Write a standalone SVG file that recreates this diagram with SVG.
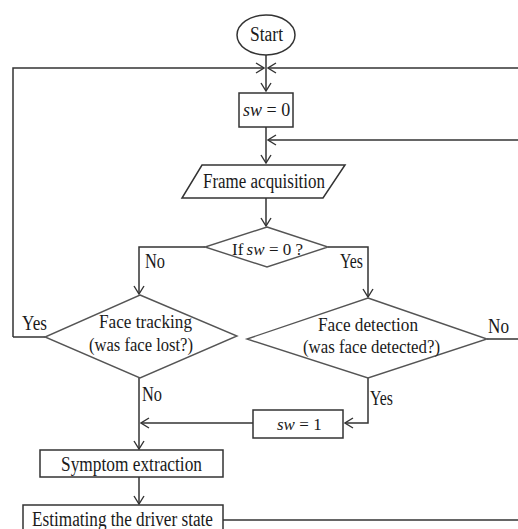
<svg xmlns="http://www.w3.org/2000/svg" width="518" height="529" viewBox="0 0 518 529">
<defs>
<style>
.s{fill:#fff;stroke:#333;stroke-width:1.5}
.d{fill:#fff;stroke:#555;stroke-width:1.4}
.c{fill:none;stroke:#333;stroke-width:1.5}
text{font-family:"Liberation Serif","Times New Roman",serif;font-size:20px;fill:#1a1a1a}
.m{text-anchor:middle}
.i{font-style:italic}
.f18{font-size:18px}
.f17{font-size:17px}
</style>
<marker id="a" markerWidth="10" markerHeight="12" refX="9" refY="6" orient="auto" markerUnits="userSpaceOnUse">
<path d="M1,1 L9,6 L1,11" fill="none" stroke="#333" stroke-width="1.4"/>
</marker>
</defs>
<rect width="518" height="529" fill="#fff"/>
<g id="connectors">
<path class="c" d="M266,55 V91" marker-end="url(#a)"/>
<path class="c" d="M13,337 V68 H264" marker-end="url(#a)"/>
<path class="c" d="M518,68 H268" marker-end="url(#a)"/>
<path class="c" d="M266,127 V163"  marker-end="url(#a)"/>
<path class="c" d="M518,140 H268" marker-end="url(#a)"/>
<path class="c" d="M266,198 V226" marker-end="url(#a)"/>
<path class="c" d="M205,247 H139 V294" marker-end="url(#a)"/>
<path class="c" d="M328,247 H368 V297" marker-end="url(#a)"/>
<path class="c" d="M45,337 H13"/>
<path class="c" d="M487,339 H518"/>
<path class="c" d="M139,378 V449" marker-end="url(#a)"/>
<path class="c" d="M368,378 V423 H345" marker-end="url(#a)"/>
<path class="c" d="M253,423 H141" marker-end="url(#a)"/>
<path class="c" d="M139,477 V504" marker-end="url(#a)"/>
<path class="c" d="M223,520 H518"/>
<text x="22" y="330" textLength="25" lengthAdjust="spacingAndGlyphs">Yes</text>
<text x="145" y="268" textLength="20" lengthAdjust="spacingAndGlyphs">No</text>
<text x="340" y="268" textLength="23" lengthAdjust="spacingAndGlyphs">Yes</text>
<text x="488" y="333" textLength="21" lengthAdjust="spacingAndGlyphs">No</text>
<text x="142" y="401" textLength="20" lengthAdjust="spacingAndGlyphs">No</text>
<text x="370" y="405" textLength="23" lengthAdjust="spacingAndGlyphs">Yes</text>
</g>
<g id="start">
<ellipse class="s" cx="266" cy="35" rx="29" ry="20"/>
<text class="m" x="266.5" y="41" textLength="33" lengthAdjust="spacingAndGlyphs">Start</text>
</g>
<g id="sw0">
<rect class="s" x="239" y="93" width="54" height="34"/>
<text class="i f18" x="243" y="116">sw</text>
<text class="f18" x="266.5" y="116">= 0</text>
</g>
<g id="frame">
<polygon class="s" points="202,165 345,165 323,198 182,198"/>
<text class="m" x="264" y="188" textLength="122" lengthAdjust="spacingAndGlyphs">Frame acquisition</text>
</g>
<g id="ifsw">
<polygon class="d" points="267,227 328,247 267,267 205,247"/>
<text class="f17" x="232" y="255">If</text>
<text class="i f17" x="246.6" y="255">sw</text>
<text class="f17" x="268.9" y="255">= 0 ?</text>
</g>
<g id="tracking">
<polygon class="d" points="140,295 237,336 140,378 45,337"/>
<text class="m f18" x="145.5" y="328" textLength="93" lengthAdjust="spacingAndGlyphs">Face tracking</text>
<text class="m f18" x="141" y="351" textLength="104" lengthAdjust="spacingAndGlyphs">(was face lost?)</text>
</g>
<g id="detection">
<polygon class="d" points="368,298 487,339 368,378 247,339"/>
<text class="m f18" x="368" y="331" textLength="100" lengthAdjust="spacingAndGlyphs">Face detection</text>
<text class="m f18" x="371.5" y="353" textLength="137" lengthAdjust="spacingAndGlyphs">(was face detected?)</text>
</g>
<g id="sw1">
<rect class="s" x="253" y="410" width="90" height="28"/>
<text class="i f17" x="277" y="430">sw</text>
<text class="f17" x="299.3" y="430">= 1</text>
</g>
<g id="symptom">
<rect class="s" x="40" y="450" width="183" height="27"/>
<text class="m" x="131.5" y="471" textLength="141" lengthAdjust="spacingAndGlyphs">Symptom extraction</text>
</g>
<g id="estimate">
<rect class="s" x="23" y="505" width="200" height="30"/>
<text class="m" x="122.5" y="526" textLength="181" lengthAdjust="spacingAndGlyphs">Estimating the driver state</text>
</g>
</svg>
